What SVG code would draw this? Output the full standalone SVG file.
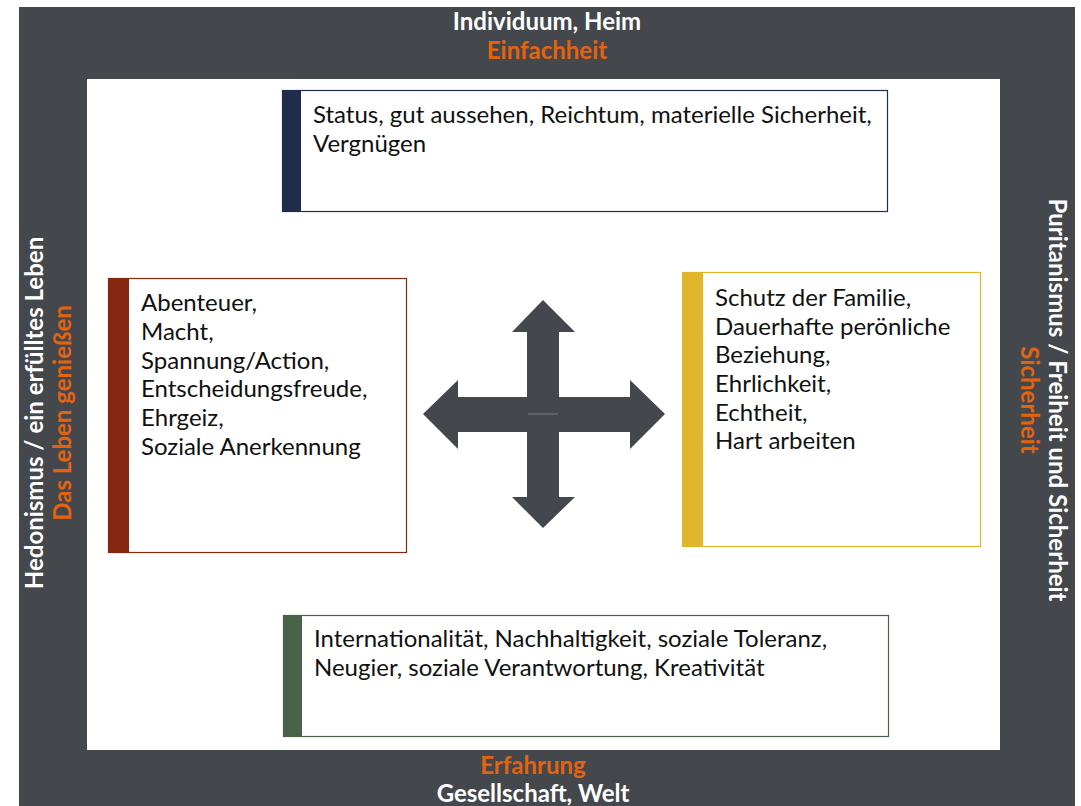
<svg xmlns="http://www.w3.org/2000/svg" width="1081" height="806" viewBox="0 0 1081 806">
<style>
.hdr{font-family:Lato,"Open Sans","Liberation Sans",sans-serif;font-weight:bold;font-size:24px;text-anchor:middle}
.w{fill:#ffffff}
.o{fill:#e4630f}
.bt{font-family:Lato,"Open Sans","Liberation Sans",sans-serif;font-size:24px;fill:#111111}
.card{fill:#ffffff;stroke-width:1.2}
</style>
<rect x="0" y="0" width="1081" height="806" fill="#ffffff"/>
<g id="frame">
<rect x="19" y="7" width="1056" height="799" fill="#44474c"/>
<rect x="87" y="79" width="913" height="671" fill="#ffffff"/>
</g>
<g id="label-top">
<text class="hdr w" x="547" y="30">Individuum, Heim</text>
<text class="hdr o" x="547" y="59">Einfachheit</text>
</g>
<g id="label-bottom">
<text class="hdr o" x="533" y="774">Erfahrung</text>
<text class="hdr w" x="533" y="802">Gesellschaft, Welt</text>
</g>
<g id="label-left" transform="translate(35,413) rotate(-90)">
<text class="hdr w" x="0" y="8">Hedonismus / ein erfülltes Leben</text>
<text class="hdr o" x="0" y="36">Das Leben genießen</text>
</g>
<g id="label-right" transform="translate(1057,400) rotate(90)">
<text class="hdr w" x="0" y="8">Puritanismus / Freiheit und Sicherheit</text>
<text class="hdr o" x="0" y="36">Sicherheit</text>
</g>
<g id="box-top">
<rect class="card" x="282.5" y="90.5" width="605" height="121" stroke="#1f2d4a"/>
<rect x="282" y="90" width="19" height="122" fill="#1f2d4a"/>
<text class="bt" x="313" y="123">Status, gut aussehen, Reichtum, materielle Sicherheit,</text>
<text class="bt" x="313" y="152">Vergnügen</text>
</g>
<g id="box-left">
<rect class="card" x="108.5" y="278.5" width="298" height="274" stroke="#842812"/>
<rect x="108" y="278" width="21" height="275" fill="#842812"/>
<text class="bt" x="141" y="311">Abenteuer,</text>
<text class="bt" x="141" y="340">Macht,</text>
<text class="bt" x="141" y="369">Spannung/Action,</text>
<text class="bt" x="141" y="397">Entscheidungsfreude,</text>
<text class="bt" x="141" y="426">Ehrgeiz,</text>
<text class="bt" x="141" y="455">Soziale Anerkennung</text>
</g>
<g id="box-right">
<rect class="card" x="682.5" y="272.5" width="298" height="274" stroke="#e1b62a"/>
<rect x="682" y="272" width="21" height="275" fill="#e1b62a"/>
<text class="bt" x="715" y="306">Schutz der Familie,</text>
<text class="bt" x="715" y="335">Dauerhafte perönliche</text>
<text class="bt" x="715" y="363">Beziehung,</text>
<text class="bt" x="715" y="392">Ehrlichkeit,</text>
<text class="bt" x="715" y="421">Echtheit,</text>
<text class="bt" x="715" y="449">Hart arbeiten</text>
</g>
<g id="box-bottom">
<rect class="card" x="283.5" y="615.5" width="605" height="121" stroke="#4a6249"/>
<rect x="283" y="615" width="19" height="122" fill="#4a6249"/>
<text class="bt" x="314" y="647">Internationalität, Nachhaltigkeit, soziale Toleranz,</text>
<text class="bt" x="314" y="676">Neugier, soziale Verantwortung, Kreativität</text>
</g>
<g id="connectors" fill="#44474c">
<polygon points="543,300 575,332 559,332 559,414 527,414 527,332 512,332"/>
<polygon points="543,528 575,497 559,497 559,414 527,414 527,497 512,497"/>
<polygon points="423,414 458,380 458,397 543,397 543,432 458,432 458,449"/>
<polygon points="665,414 630,380 630,397 543,397 543,432 630,432 630,449"/>
<line x1="528" y1="414" x2="558" y2="414" stroke="#7a7d82" stroke-width="1"/>
</g>
</svg>
